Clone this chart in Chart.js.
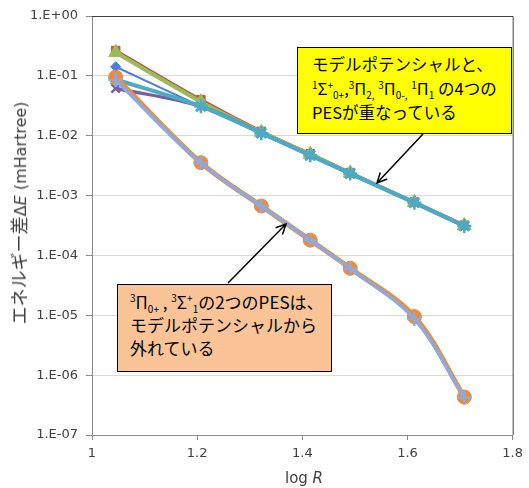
<!DOCTYPE html>
<html>
<head>
<meta charset="utf-8">
<script src="https://cdn.jsdelivr.net/npm/chart.js@4"></script>
<style>
  body { margin: 0; background: #fff; }
  #wrap { position: relative; width: 529px; height: 488px; }
  .box { position: absolute; box-sizing: border-box; border: 1.5px solid #000;
         font-family: "Noto Sans CJK JP", sans-serif; color: #000; white-space: nowrap; }
  .box sup, .box sub { font-size: 10px; line-height: 0; }
  #ytitle { position: absolute; left: 18px; top: 213px; transform: translate(-50%, -50%) rotate(-90deg);
            font-family: "DejaVu Sans", "Noto Sans CJK JP", sans-serif; font-size: 16px; color: #404040; white-space: nowrap; }
  #ytitle .jp { font-family: "Noto Sans CJK JP"; font-size: 18px; }
  #xtitle { position: absolute; left: 304px; top: 478px; transform: translate(-50%, -50%);
            font-family: "DejaVu Sans", sans-serif; font-size: 15px; color: #404040; white-space: nowrap; }
</style>
</head>
<body>
<div id="wrap">
  <canvas id="c"></canvas>
  <div id="ytitle"><span class="jp">エネルギー差</span>Δ<i>E</i> (mHartree)</div>
  <div id="xtitle">log <i>R</i></div>
  <div class="box" style="left:297px; top:47px; width:215px; height:87px; background:#ffff00; padding:4px 0 0 14px; font-size:16.5px; line-height:24px;">
    モデルポテンシャルと、<br>
    <sup>1</sup>Σ<sup>+</sup><sub>0+</sub>,<sup>3</sup>Π<sub>2,</sub> <sup>3</sup>Π<sub>0-,</sub> <sup>1</sup>Π<sub>1</sub> の4つの<br>
    PESが重なっている
  </div>
  <div class="box" style="left:117px; top:284px; width:215px; height:88px; background:#fac497; padding:5px 0 0 12px; font-size:17px; line-height:23px;">
    <sup>3</sup>Π<sub>0+</sub> , <sup>3</sup>Σ<sup>+</sup><sub>1</sub>の2つのPESは、<br>
    モデルポテンシャルから<br>
    外れている
  </div>
</div>
<script>
// log R
const logR = [1.045, 1.207, 1.322, 1.415, 1.491, 1.613, 1.708];

// energy difference (mHartree)
const plusLightBlue = [0.085, 0.0035, 6.7e-4, 1.8e-4, 6.0e-5, 8.7e-6, 4.2e-7];
const circleOrange = [0.095, 0.00355, 6.7e-4, 1.8e-4, 6.1e-5, 9.5e-6, 4.3e-7];
const starCyan = [0.087, 0.031, 0.0110, 0.0047, 0.00233, 7.6e-4, 3.1e-4];
const crossPurple = [0.062, 0.031, 0.0111, 0.0047, 0.00233, 7.6e-4, 3.1e-4];
const triGreen = [0.245, 0.037, 0.0114, 0.0049, 0.00238, 7.7e-4, 3.15e-4];
const squareRed = [0.265, 0.040, 0.0118, 0.0050, 0.00242, 7.8e-4, 3.2e-4];
const diamondBlue = [0.142, 0.031, 0.0110, 0.0047, 0.00232, 7.5e-4, 3.1e-4];

const yTicks = [1, 1e-1, 1e-2, 1e-3, 1e-4, 1e-5, 1e-6, 1e-7];
const xTicks = [1, 1.2, 1.4, 1.6, 1.8];

const pts = arr => arr.map((y, i) => ({ x: logR[i], y: y }));

function series(label, arr, color, style, radius, width) {
  return {
    label: label,
    data: pts(arr),
    borderColor: color,
    backgroundColor: color,
    borderWidth: width,
    pointStyle: style,
    pointRadius: radius,
    pointBorderWidth: (style === 'cross' || style === 'crossRot' || style === 'star') ? 2.5 : 1,
    pointBorderColor: color,
    pointBackgroundColor: color,
    tension: 0.35
  };
}

// arrows and plot frame
const extras = {
  id: 'extras',
  afterDraw(chart) {
    const ctx = chart.ctx, a = chart.chartArea;
    ctx.save();
    ctx.strokeStyle = '#404040';
    ctx.lineWidth = 1;
    ctx.beginPath();
    ctx.moveTo(a.left, a.top + 0.5); ctx.lineTo(a.right + 0.5, a.top + 0.5);
    ctx.lineTo(a.right + 0.5, a.bottom);
    ctx.stroke();

    function arrow(x1, y1, x2, y2) {
      ctx.strokeStyle = '#000';
      ctx.lineWidth = 1.5;
      ctx.beginPath();
      ctx.moveTo(x1, y1); ctx.lineTo(x2, y2);
      const ang = Math.atan2(y2 - y1, x2 - x1);
      const L = 11;
      ctx.moveTo(x2 - L * Math.cos(ang - 0.45), y2 - L * Math.sin(ang - 0.45));
      ctx.lineTo(x2, y2);
      ctx.lineTo(x2 - L * Math.cos(ang + 0.45), y2 - L * Math.sin(ang + 0.45));
      ctx.stroke();
    }
    arrow(423, 134, 377, 183);
    arrow(228, 283, 286, 224);
    ctx.restore();
  }
};

new Chart(document.getElementById('c'), {
  type: 'line',
  data: {
    datasets: [
      series('3Σ+1', plusLightBlue, '#8eaadb', 'cross', 7, 3.5),
      series('3Π0+', circleOrange, '#ee8a3c', 'circle', 7, 5),
      series('1Π1', starCyan, '#4babc6', 'star', 7, 4),
      series('3Π0-', crossPurple, '#7a5fa0', 'crossRot', 6, 3.5),
      series('3Π2', triGreen, '#9bbb59', 'triangle', 8, 4),
      series('1Σ+0+', squareRed, '#c0504d', 'rect', 6, 3),
      series('モデルポテンシャル', diamondBlue, '#4a7ee0', 'rectRot', 5, 2)
    ]
  },
  options: {
    responsive: true,
    maintainAspectRatio: false,
    animation: false,
    layout: { padding: { top: 16, right: 14, left: 0, bottom: 0 } },
    plugins: { legend: { display: false }, tooltip: { enabled: false } },
    scales: {
      x: {
        type: 'linear',
        min: 1, max: 1.8,
        afterFit: s => { s.height = 53; },
        afterBuildTicks: s => { s.ticks = xTicks.map(v => ({ value: v })); },
        ticks: {
          font: { family: 'DejaVu Sans', size: 13 },
          color: '#404040',
          padding: 6,
          maxRotation: 0,
          callback: v => String(v)
        },
        grid: { display: true, drawOnChartArea: false, tickLength: 5, color: '#8c8c8c' },
        border: { color: '#8c8c8c' }
      },
      y: {
        type: 'logarithmic',
        min: 1e-7, max: 1,
        afterFit: s => { s.width = 92; },
        afterBuildTicks: s => { s.ticks = yTicks.map(v => ({ value: v })); },
        ticks: {
          font: { family: 'DejaVu Sans', size: 13 },
          color: '#404040',
          padding: 8,
          callback: v => {
            const e = Math.round(Math.log10(v));
            return '1.E' + (e >= 0 ? '+' : '-') + String(Math.abs(e)).padStart(2, '0');
          }
        },
        grid: { color: '#d9d9d9', tickLength: 6, tickColor: '#8c8c8c' },
        border: { color: '#8c8c8c' }
      }
    }
  },
  plugins: [extras]
});
</script>
</body>
</html>
